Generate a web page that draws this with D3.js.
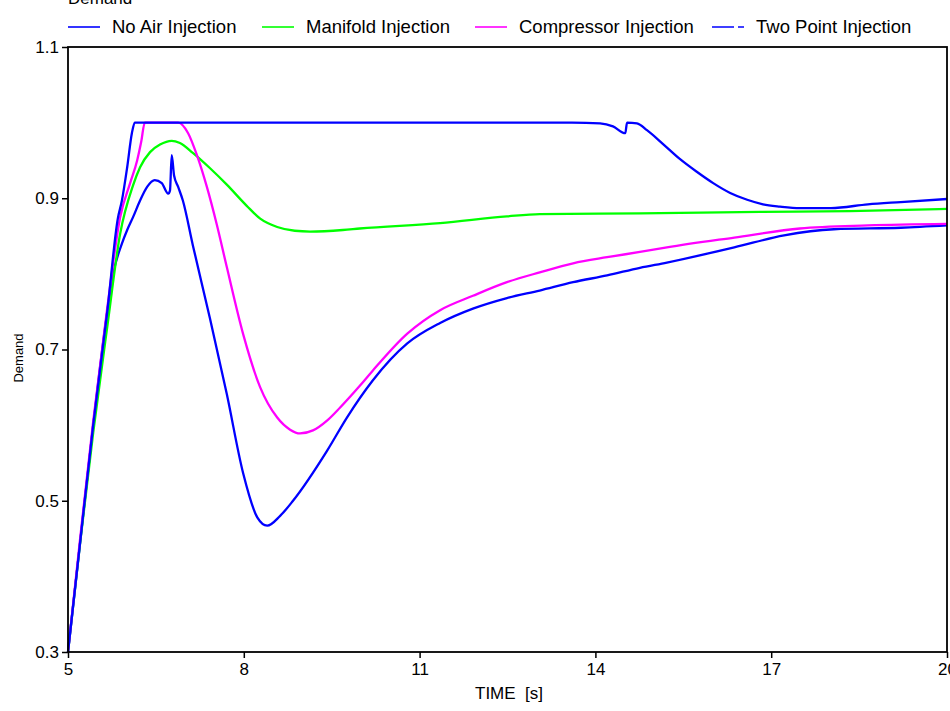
<!DOCTYPE html>
<html>
<head>
<meta charset="utf-8">
<script src="https://cdn.jsdelivr.net/npm/d3@7"></script>
<style>
  body { margin: 0; background: #fff; }
  text { font-family: "Liberation Sans", Arial, sans-serif; }
</style>
</head>
<body>
<div id="chart"></div>
<script>
// Valores (tiempo en s, demanda)
const noAirT = [5.00, 5.20, 5.43, 5.67, 5.77, 5.92, 6.01, 6.11, 6.23, 6.35, 6.48, 6.60, 6.71, 6.74, 6.77, 6.81, 6.88, 6.96, 7.13, 7.42, 7.71, 7.99, 8.23, 8.40, 8.62, 8.84, 9.42, 9.76, 10.20, 10.79, 11.35, 11.91, 12.49, 13.05, 13.62, 14.20, 14.76, 15.22, 16.37, 17.22, 18.07, 19.21, 20.00];
const noAirV = [0.30, 0.44, 0.60, 0.75, 0.80, 0.84, 0.858, 0.875, 0.897, 0.915, 0.924, 0.92, 0.906, 0.91, 0.957, 0.93, 0.915, 0.897, 0.838, 0.742, 0.641, 0.536, 0.478, 0.467, 0.48, 0.50, 0.566, 0.61, 0.659, 0.708, 0.735, 0.754, 0.768, 0.778, 0.789, 0.798, 0.808, 0.815, 0.835, 0.851, 0.859, 0.861, 0.864];

const manifoldT = [5.00, 5.20, 5.43, 5.67, 5.89, 6.11, 6.23, 6.40, 6.57, 6.77, 6.91, 7.13, 7.42, 7.71, 8.05, 8.28, 8.57, 8.87, 9.13, 9.69, 9.98, 11.35, 12.49, 13.05, 14.76, 16.81, 18.34, 20.00];
const manifoldV = [0.30, 0.44, 0.59, 0.73, 0.853, 0.917, 0.941, 0.961, 0.971, 0.976, 0.973, 0.960, 0.940, 0.918, 0.89, 0.873, 0.862, 0.857, 0.856, 0.858, 0.86, 0.867, 0.876, 0.879, 0.880, 0.882, 0.883, 0.886];

const compressorT = [5.00, 5.20, 5.43, 5.67, 5.89, 6.06, 6.18, 6.25, 6.31, 6.88, 7.05, 7.20, 7.37, 7.54, 7.71, 7.99, 8.28, 8.57, 8.79, 8.96, 9.18, 9.42, 9.64, 9.98, 10.20, 10.79, 11.35, 11.91, 12.49, 13.05, 13.62, 14.20, 14.76, 15.22, 16.37, 17.49, 18.65, 20.00];
const compressorV = [0.30, 0.445, 0.605, 0.755, 0.875, 0.92, 0.95, 0.975, 1.0, 1.0, 0.986, 0.957, 0.915, 0.865, 0.809, 0.72, 0.65, 0.61, 0.594, 0.589, 0.593, 0.606, 0.623, 0.652, 0.672, 0.721, 0.752, 0.771, 0.789, 0.802, 0.814, 0.822, 0.829, 0.835, 0.848, 0.86, 0.864, 0.866];

const twoPointT = [5.00, 5.20, 5.43, 5.67, 5.85, 5.92, 6.01, 6.09, 6.14, 13.60, 14.08, 14.30, 14.51, 14.54, 14.71, 14.88, 15.15, 15.44, 15.73, 16.01, 16.30, 16.59, 16.86, 17.15, 17.49, 18.02, 18.65, 19.21, 20.00];
const twoPointV = [0.30, 0.44, 0.60, 0.75, 0.873, 0.897, 0.941, 0.986, 1.0, 1.0, 0.999, 0.995, 0.986, 1.0, 0.999, 0.99, 0.972, 0.952, 0.935, 0.92, 0.907, 0.898, 0.892, 0.889, 0.887, 0.887, 0.892, 0.895, 0.899];

const seriesNames = ["No Air Injection", "Manifold Injection", "Compressor Injection", "Two Point Injection"];
const xTicks = [5, 8, 11, 14, 17, 20];
const yTicks = [0.3, 0.5, 0.7, 0.9, 1.1];

// Dimensiones
const margin = { top: 47, right: 3, bottom: 59, left: 68 },
    width = 950 - margin.left - margin.right,
    height = 711 - margin.top - margin.bottom;

const root = d3.select("#chart").append("svg")
    .attr("width", 950)
    .attr("height", 711);

const svg = root.append("g")
    .attr("transform", `translate(${margin.left}, ${margin.top})`);

const x = d3.scaleLinear().domain([5, 20]).range([0, width]);
const y = d3.scaleLinear().domain([0.3, 1.1]).range([height, 0]);

const series = [
    { name: seriesNames[0], t: noAirT, v: noAirV, color: "#0000ff", dash: null },
    { name: seriesNames[1], t: manifoldT, v: manifoldV, color: "#00ff00", dash: null },
    { name: seriesNames[2], t: compressorT, v: compressorV, color: "#ff00ff", dash: null },
    { name: seriesNames[3], t: twoPointT, v: twoPointV, color: "#0000ff", dash: "22,4,6,4" }
];

// Lineas
const line = d3.line()
    .x(d => x(d[0]))
    .y(d => y(d[1]))
    .curve(d3.curveMonotoneX);

svg.append("g")
    .selectAll("path")
    .data(series)
    .join("path")
    .attr("fill", "none")
    .attr("stroke", d => d.color)
    .attr("stroke-width", 2.3)
    .attr("d", d => line(d.t.map((t, i) => [t, d.v[i]])));

// Ejes
const yAxis = svg.append("g")
    .call(d3.axisLeft(y).tickValues(yTicks).tickFormat(d3.format(".1f")).tickSize(6).tickSizeOuter(0).tickPadding(3));
const xAxis = svg.append("g")
    .attr("transform", `translate(0, ${height})`)
    .call(d3.axisBottom(x).tickValues(xTicks).tickFormat(d3.format("d")).tickSize(6).tickSizeOuter(0).tickPadding(5));

[xAxis, yAxis].forEach(a => {
    a.selectAll("text").style("font-size", "17px").attr("fill", "#000");
    a.selectAll("line").attr("stroke", "#000").attr("stroke-width", 1.5);
    a.select(".domain").remove();
});

// Marco
svg.append("rect")
    .attr("width", width)
    .attr("height", height)
    .attr("fill", "none")
    .attr("stroke", "#000")
    .attr("stroke-width", 1.8);

// Etiquetas de ejes
svg.append("text")
    .attr("text-anchor", "middle")
    .attr("x", 509 - margin.left)
    .attr("y", height + 47)
    .style("font-size", "17px")
    .attr("xml:space", "preserve")
    .text("TIME  [s]");

root.append("text")
    .attr("text-anchor", "middle")
    .attr("transform", "translate(23, 358) rotate(-90)")
    .style("font-size", "13px")
    .text("Demand");

// Titulo recortado arriba (en la figura original solo se ve la parte baja)
root.append("text")
    .attr("x", 68)
    .attr("y", 4)
    .style("font-size", "17px")
    .text("Demand");

// Leyenda
const legendX = [68, 262, 475, 712];
const legend = root.append("g")
    .selectAll("g")
    .data(series)
    .join("g")
    .attr("transform", (d, i) => `translate(${legendX[i]}, 27)`);

legend.append("line")
    .attr("x1", 0).attr("x2", 32)
    .attr("stroke", d => d.color)
    .attr("stroke-width", 1.6)
    .attr("stroke-dasharray", d => d.dash);

legend.append("text")
    .attr("x", 44)
    .attr("dy", "0.35em")
    .style("font-size", "18.5px")
    .text(d => d.name);
</script>
</body>
</html>
